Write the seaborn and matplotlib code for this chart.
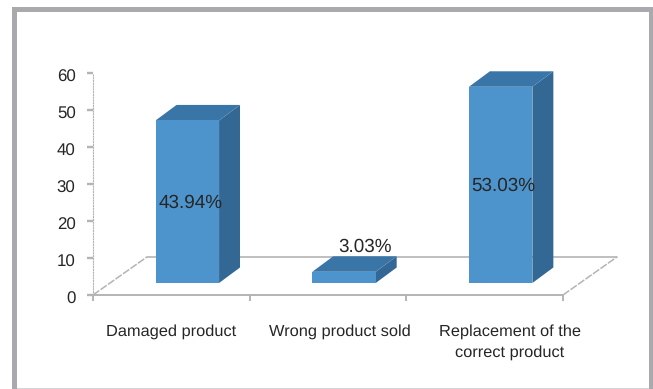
import numpy as np
import pandas as pd
import matplotlib
matplotlib.use("Agg")
import matplotlib.pyplot as plt
from matplotlib.patches import Polygon, Rectangle
from matplotlib.transforms import ScaledTranslation
import seaborn as sns

categories = ["Damaged product", "Wrong product sold", "Replacement of the\ncorrect product"]
values = [43.94, 3.03, 53.03]
value_labels = ["43.94%", "3.03%", "53.03%"]
y_ticks = [0, 10, 20, 30, 40, 50, 60]

W, H = 653, 389
FRONT = "#4e94cc"
TOP = "#3a75a8"
SIDE = "#336894"
GRID = "#b4b4b4"
BORDER = "#a9a9ae"
TEXT = "#262626"

sns.set_theme(style="white")
plt.rcParams["font.family"] = ["Liberation Sans", "DejaVu Sans"]
plt.rcParams["text.hinting"] = "none"

fig = plt.figure(figsize=(W / 100, H / 100), dpi=100, facecolor="white")

def axes_px(x0, x1, ytop, ybot, **kw):
    return fig.add_axes([x0 / W, 1 - ybot / H, (x1 - x0) / W, (ybot - ytop) / H], **kw)

def band(x0, x1, ytop, ybot, color):
    fig.add_artist(Rectangle((x0 / W, 1 - ybot / H), (x1 - x0) / W, (ybot - ytop) / H,
                             transform=fig.transFigure, fc=color, ec="none"))

# outer frame: heavy on top and sides, hairline at the bottom
band(12.3, 653, 7.3, 12.3, BORDER)
band(12.3, 17.3, 7.3, 389, BORDER)
band(649.3, 653, 7.3, 389, BORDER)
band(17.3, 649.3, 387.5, 389, "#d4d4d6")

# axis box: y=0 at 295 px, y=60 at 73 px
ax = axes_px(93, 563, 73, 295)
ax.set_xlim(-0.5, 2.5)
ax.set_ylim(0, 60)
ax.patch.set_alpha(0)
sns.despine(ax=ax, top=True, right=True)
ax.spines["left"].set_color(GRID)
ax.spines["left"].set_linestyle((0, (1, 1.5)))
ax.spines["left"].set_linewidth(0.8)
ax.spines["bottom"].set_color(GRID)
ax.spines["bottom"].set_linewidth(1.4)
ax.set_yticks(y_ticks)
ax.set_xticks([-0.5, 0.5, 1.5, 2.5])
ax.set_xticklabels([])
ax.tick_params(axis="y", length=4.5, width=1.7, color=GRID, labelsize=12.2, labelcolor=TEXT, pad=8, left=True)
ax.tick_params(axis="x", length=4, width=1.4, color=GRID, bottom=True)
down = ScaledTranslation(0, -3 / 100, fig.dpi_scale_trans)
for lbl in ax.get_yticklabels():
    lbl.set_transform(lbl.get_transform() + down)

label_shift = [0, 8.3, 18.2]
for i, c in enumerate(categories):
    ax.annotate(c, (i, 0), xycoords=("data", "axes fraction"), xytext=(label_shift[i], -21.2),
                textcoords="offset points", ha="center", va="top", fontsize=11.8,
                color=TEXT, linespacing=1.5)

# floor of the 3D plot, depth expressed in axis units
fx = 54 / 157
fy = 38 / 3.7
ax.plot([-0.5, -0.5 + fx], [0, fy], color=GRID, lw=1.1, ls=(0, (5, 1)), clip_on=False)
ax.plot([2.5, 2.5 + fx], [0, fy], color=GRID, lw=1.1, ls=(0, (5, 1)), clip_on=False)
ax.plot([-0.5 + fx, 2.5 + fx], [fy, fy], color=GRID, lw=1.2, clip_on=False)

# bars, shifted onto the floor
bx = axes_px(109, 579, 61, 283)
bx.set_axis_off()
df = pd.DataFrame({"category": categories, "value": values})
sns.barplot(data=df, x="category", y="value", ax=bx, color=FRONT, saturation=1,
            width=0.405, edgecolor="none", order=categories, zorder=3)
bx.set_xlim(-0.5, 2.5)
bx.set_ylim(0, 60)

dx = 21 / 157
dy = 15.5 / 3.7
label_offsets = [(2, -0.5), (15, 7), (2, -0.5)]
for p, lab, off in zip(bx.patches, value_labels, label_offsets):
    x0, w, h = p.get_x(), p.get_width(), p.get_height()
    x1 = x0 + w
    bx.add_patch(Polygon([(x1, 0), (x1 + dx, dy), (x1 + dx, h + dy), (x1, h)],
                         fc=SIDE, ec="none", zorder=2, clip_on=False))
    bx.add_patch(Polygon([(x0, h), (x0 + dx, h + dy), (x1 + dx, h + dy), (x1, h)],
                         fc=TOP, ec="none", zorder=2, clip_on=False))
    yy = h / 2 if h > 10 else h + dy
    bx.annotate(lab, (x0 + w / 2, yy), xytext=off, textcoords="offset points",
                ha="center", va="center", fontsize=13.6, color=TEXT, zorder=5)

fig.savefig("out.png", dpi=100, facecolor="white")
